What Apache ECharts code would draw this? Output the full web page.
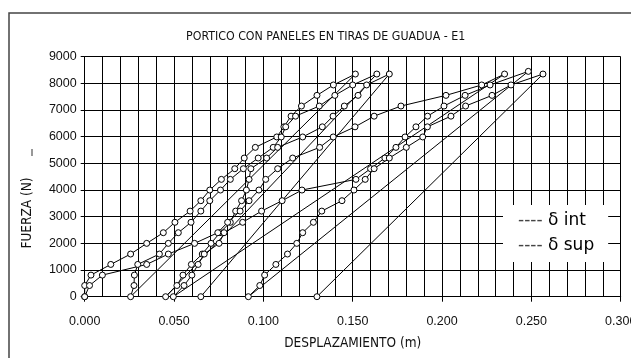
<!DOCTYPE html>
<html>
<head>
<meta charset="utf-8">
<script src="https://cdn.jsdelivr.net/npm/echarts@6/dist/echarts.min.js"></script>
<style>
html, body { margin: 0; padding: 0; background: #fff; }
#chart { width: 631px; height: 358px; }
</style>
</head>
<body>
<div id="chart"></div>
<script>
// niveles de carga (N), iguales en cada ciclo antes del pico
var fuerza = [0, 420, 810, 1210, 1600, 2000, 2400, 2790, 3210, 3600, 4000, 4400, 4800, 5200, 5600, 5990, 6370, 6770, 7150, 7550, 7940];

// desplazamientos (m) por ciclo; el ultimo valor es el del pico
var int1 = [0.000, 0.000, 0.0035, 0.0146, 0.0257, 0.0347, 0.0440, 0.0505, 0.0590, 0.0650, 0.0700, 0.0765, 0.0840, 0.0893, 0.0955, 0.1075, 0.1115, 0.1155, 0.1213, 0.1300, 0.1392, 0.1515];
var int2 = [0.0257, 0.0276, 0.0278, 0.0297, 0.0418, 0.0468, 0.0524, 0.0595, 0.0650, 0.0700, 0.0760, 0.0815, 0.0888, 0.0971, 0.1055, 0.1100, 0.1125, 0.1180, 0.1313, 0.1400, 0.1500, 0.1635];
var int3 = [0.0453, 0.0516, 0.0550, 0.0597, 0.0658, 0.0707, 0.0757, 0.0815, 0.0845, 0.0878, 0.0905, 0.0920, 0.0930, 0.1018, 0.1080, 0.1220, 0.1330, 0.1390, 0.1453, 0.1530, 0.1578, 0.1705];
var sup1 = [0.000, 0.0027, 0.0099, 0.0347, 0.0468, 0.0615, 0.0745, 0.0800, 0.0870, 0.0920, 0.0975, 0.1013, 0.1080, 0.1164, 0.1315, 0.1391, 0.1513, 0.1620, 0.1770, 0.2022, 0.2222, 0.2350];
var sup2 = [0.0496, 0.0556, 0.0600, 0.0635, 0.0669, 0.0752, 0.0780, 0.0884, 0.0990, 0.1105, 0.1216, 0.1518, 0.1600, 0.1680, 0.1742, 0.1793, 0.1854, 0.1919, 0.2011, 0.2129, 0.2269, 0.2483];
var sup3 = [0.0916, 0.0980, 0.1007, 0.1070, 0.1135, 0.1187, 0.1220, 0.1280, 0.1327, 0.1440, 0.1507, 0.1570, 0.1620, 0.1705, 0.1800, 0.1892, 0.1918, 0.2050, 0.2132, 0.2280, 0.2386, 0.2565];

var picoInt = [8350, 8350, 8350];
var picoSup = [8350, 8450, 8350];
var residualInt = 0.065;
var residualSup = 0.130;

var xLabels = ['0.000', '0.050', '0.100', '0.150', '0.200', '0.250', '0.300'];

function ciclos(lista, picos, residual) {
    var out = [];
    lista.forEach(function (xs, c) {
        xs.forEach(function (x, i) {
            out.push([x, i < fuerza.length ? fuerza[i] : picos[c]]);
        });
    });
    out.push([residual, 0]);
    return out;
}

var fuente = "'Liberation Sans Narrow', 'DejaVu Sans Condensed', 'Liberation Sans', sans-serif";
var marca = {
    type: 'line',
    symbol: 'circle',
    symbolSize: 6,
    itemStyle: { color: '#fff', borderColor: '#000', borderWidth: 1 },
    lineStyle: { color: '#000', width: 1 },
    emphasis: { disabled: true }
};

var myChart = echarts.init(document.getElementById('chart'));

var option = {
    animation: false,
    title: {
        text: 'PORTICO CON PANELES EN TIRAS DE GUADUA - E1',
        left: 186,
        top: 31,
        padding: 0,
        textStyle: { fontFamily: fuente, fontSize: 12.3, fontWeight: 'normal', color: '#111' }
    },
    grid: { left: 84.7, right: 10.3, top: 56.7, bottom: 61.3, outerBoundsMode: 'none' },
    legend: {
        orient: 'vertical',
        left: 503,
        top: 205,
        padding: [7, 14, 8, 10],
        itemGap: 8,
        itemWidth: 0,
        icon: 'none',
        backgroundColor: '#fff',
        data: ['δ int', 'δ sup'],
        formatter: function (name) { return '{d|----} ' + name; },
        textStyle: {
            fontFamily: "'DejaVu Sans', sans-serif",
            fontSize: 17,
            color: '#000',
            rich: { d: { color: '#444', fontSize: 17, fontFamily: "'DejaVu Sans', sans-serif" } }
        }
    },
    xAxis: {
        type: 'value',
        min: 0,
        max: 0.3,
        interval: 0.05,
        name: 'DESPLAZAMIENTO (m)',
        nameLocation: 'middle',
        nameGap: 40,
        nameTextStyle: { fontFamily: fuente, fontSize: 13.5, color: '#111' },
        axisLine: { lineStyle: { color: '#000', width: 1 } },
        axisTick: { show: true, length: 5, lineStyle: { color: '#000' } },
        axisLabel: {
            margin: 18,
            alignMaxLabel: 'center',
            alignMinLabel: 'center',
            fontFamily: "'Liberation Sans', sans-serif",
            fontSize: 12.5,
            color: '#111',
            formatter: function (v) { return xLabels[Math.round(v / 0.05)]; }
        },
        splitLine: { show: true, lineStyle: { color: '#000', width: 1 } },
        minorTick: { show: false, splitNumber: 5 },
        minorSplitLine: { show: true, lineStyle: { color: '#000', width: 1 } }
    },
    yAxis: {
        type: 'value',
        min: 0,
        max: 9000,
        interval: 1000,
        axisLine: { show: true, lineStyle: { color: '#000', width: 1 } },
        axisTick: { show: true, length: 4, lineStyle: { color: '#000' } },
        axisLabel: {
            margin: 8,
            fontFamily: "'Liberation Sans', sans-serif",
            fontSize: 12.5,
            color: '#111',
            formatter: function (v) { return String(v); }
        },
        splitLine: { show: true, lineStyle: { color: '#000', width: 1 } }
    },
    graphic: [
        {
            type: 'rect',
            shape: { x: 9, y: 13, width: 700, height: 400 },
            style: { fill: null, stroke: '#444', lineWidth: 1.5 },
            silent: true
        },
        {
            type: 'text',
            x: 27,
            y: 213,
            rotation: Math.PI / 2,
            style: {
                text: 'FUERZA (N)',
                fontFamily: fuente,
                fontSize: 13.5,
                fill: '#111',
                align: 'center',
                verticalAlign: 'middle'
            }
        },
        {
            type: 'rect',
            shape: { x: 31.5, y: 149, width: 1, height: 7 },
            style: { fill: '#333' }
        }
    ],
    series: [
        Object.assign({ name: 'δ int', data: ciclos([int1, int2, int3], picoInt, residualInt) }, marca),
        Object.assign({ name: 'δ sup', data: ciclos([sup1, sup2, sup3], picoSup, residualSup) }, marca)
    ]
};

myChart.setOption(option);
</script>
</body>
</html>
